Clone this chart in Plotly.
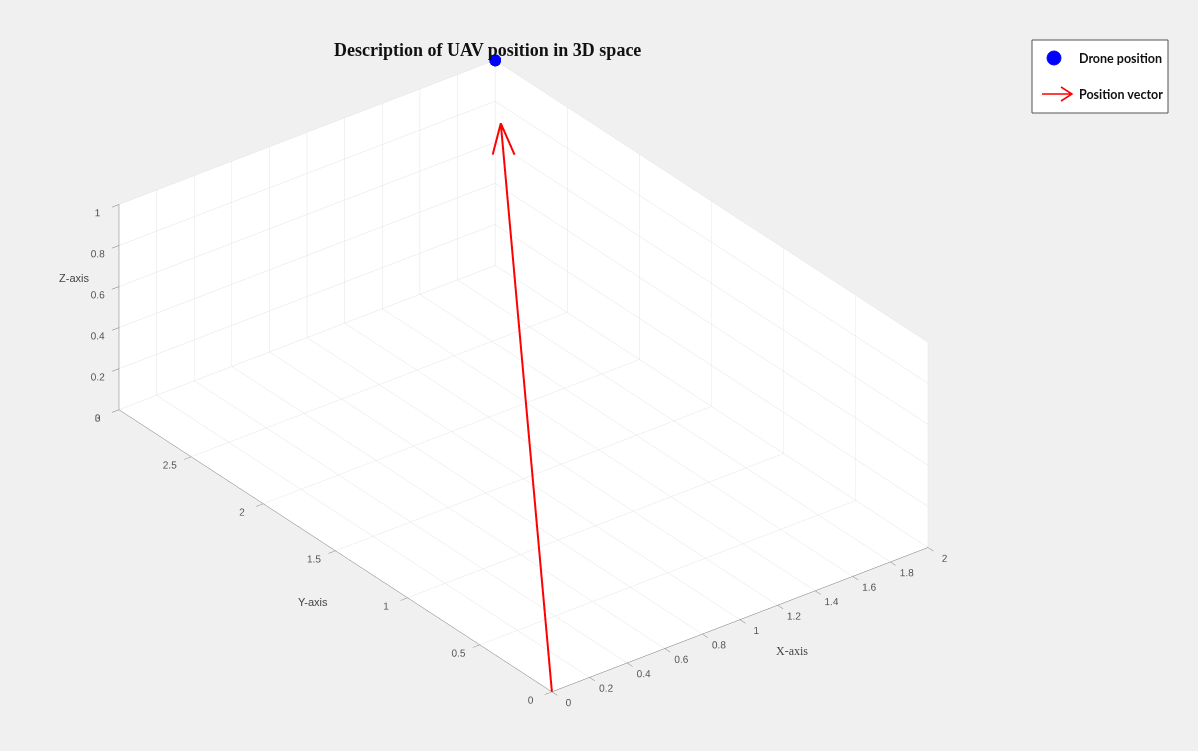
import numpy as np
import plotly.graph_objects as go

# Drone position and quiver scale (MATLAB-style autoscale of 0.9)
drone_pos = [2.0, 3.0, 1.0]
arrow_scale = 0.9

x_ticks = [0, 0.2, 0.4, 0.6, 0.8, 1, 1.2, 1.4, 1.6, 1.8, 2]
y_ticks = [0, 0.5, 1, 1.5, 2, 2.5, 3]
z_ticks = [0, 0.2, 0.4, 0.6, 0.8, 1]
x_labels = ["0", "0.2", "0.4", "0.6", "0.8", "1", "1.2", "1.4", "1.6", "1.8", "2"]
y_labels = ["0", "0.5", "1", "1.5", "2", "2.5", "3"]
z_labels = ["0", "0.2", "0.4", "0.6", "0.8", "1"]

W, H = 1198, 751
BG = "#f0f0f0"

# View: azimuth 37.5 deg, elevation 30 deg, looking from the (-x, -y) side
az, el = np.radians(37.5), np.radians(30.0)
eye_dir = np.array([-np.cos(el) * np.sin(az), -np.cos(el) * np.cos(az), np.sin(el)])

# Arrow geometry: shaft from origin to the scaled tip, open V head
p = np.array(drone_pos)
tip = arrow_scale * p
head_base = tip * (1 - 0.055)
side = np.array([np.cos(az), -np.sin(az), 0.0]) * 0.046
h1 = head_base + side
h2 = head_base - side

fig = go.Figure()

fig.add_trace(go.Scatter3d(
    x=[0, tip[0]], y=[0, tip[1]], z=[0, tip[2]],
    mode="lines", line=dict(color="#ff0000", width=4),
    name="Position vector", showlegend=False, hoverinfo="skip"))
fig.add_trace(go.Scatter3d(
    x=[h1[0], tip[0], h2[0]], y=[h1[1], tip[1], h2[1]], z=[h1[2], tip[2], h2[2]],
    mode="lines", line=dict(color="#ff0000", width=4),
    showlegend=False, hoverinfo="skip"))
fig.add_trace(go.Scatter3d(
    x=[p[0]], y=[p[1]], z=[p[2]],
    mode="markers", marker=dict(color="#0000ff", size=7, opacity=0.999),
    name="Drone position", showlegend=False))

tickfont = dict(family="Liberation Sans, Arial, sans-serif", size=11, color="#555555")
common = dict(
    showbackground=True, backgroundcolor="white",
    gridcolor="#e3e3e3", gridwidth=1,
    showline=True, linecolor="#777777", linewidth=1,
    zeroline=False, ticks="outside", ticklen=9, tickcolor="#777777",
    tickfont=tickfont, tickangle=0, showspikes=False,
    title=dict(text=""),
)

# Equal data aspect (axis equal): 2 : 3 : 1
K = 0.6355
fig.update_layout(
    width=W, height=H,
    paper_bgcolor=BG,
    margin=dict(l=0, r=0, t=0, b=0),
    showlegend=False,
    scene=dict(
        domain=dict(x=[0.0, 0.874], y=[0.002, 0.996]),
        bgcolor=BG,
        xaxis=dict(range=[0, 2], tickvals=x_ticks, ticktext=x_labels, **common),
        yaxis=dict(range=[0, 3], tickvals=y_ticks, ticktext=y_labels, **common),
        zaxis=dict(range=[0, 1], tickvals=z_ticks, ticktext=z_labels, **common),
        aspectmode="manual",
        aspectratio=dict(x=2 * K, y=3 * K, z=1 * K),
        camera=dict(
            projection=dict(type="orthographic"),
            eye=dict(x=eye_dir[0] * 2.0, y=eye_dir[1] * 2.0, z=eye_dir[2] * 2.0),
            up=dict(x=0, y=0, z=1),
            center=dict(x=0, y=0, z=0),
        ),
    ),
)


def px(x):
    return x / W


def py(y):
    return 1 - y / H


# Title
fig.add_annotation(
    x=px(487), y=py(50), xref="paper", yref="paper",
    text="<b>Description of UAV position in 3D space</b>", showarrow=False,
    font=dict(family="Liberation Serif, Times New Roman, serif", size=18, color="#111111"),
    xanchor="center", yanchor="middle")

# Axis titles
axis_title_font = dict(family="Liberation Sans, Arial, sans-serif", size=11, color="#444444")
fig.add_annotation(x=px(57), y=py(278), xref="paper", yref="paper", text="Z-axis",
                   showarrow=False, font=axis_title_font)
fig.add_annotation(x=px(296), y=py(610), xref="paper", yref="paper", text="Y-axis",
                   showarrow=False, font=axis_title_font)
fig.add_annotation(x=px(810), y=py(660), xref="paper", yref="paper", text="X-axis",
                   showarrow=False,
                   font=dict(family="Liberation Serif, serif", size=12, color="#444444"))

# Legend box drawn with shapes
fig.add_shape(type="rect", xref="paper", yref="paper",
              x0=px(1032), x1=px(1168), y0=py(113), y1=py(40),
              fillcolor="white", line=dict(color="#555555", width=1))
fig.add_shape(type="circle", xref="paper", yref="paper",
              x0=px(1047), x1=px(1061), y0=py(65), y1=py(51),
              fillcolor="#0000ff", line=dict(color="#0000ff", width=1))
arrow_path = (f"M {px(1042)},{py(94)} L {px(1072)},{py(94)} "
              f"M {px(1061)},{py(87)} L {px(1072)},{py(94)} L {px(1061)},{py(101)}")
fig.add_shape(type="path", xref="paper", yref="paper", path=arrow_path,
              line=dict(color="#ff0000", width=1.5))
legend_font = dict(family="Lato, Open Sans, sans-serif", size=12.5, color="#111111")
fig.add_annotation(x=px(1077), y=py(58), xref="paper", yref="paper",
                   text="<b>Drone position</b>", showarrow=False,
                   xanchor="left", yanchor="middle", font=legend_font)
fig.add_annotation(x=px(1077), y=py(94), xref="paper", yref="paper",
                   text="<b>Position vector</b>", showarrow=False,
                   xanchor="left", yanchor="middle", font=legend_font)

fig.write_html("out.html")
